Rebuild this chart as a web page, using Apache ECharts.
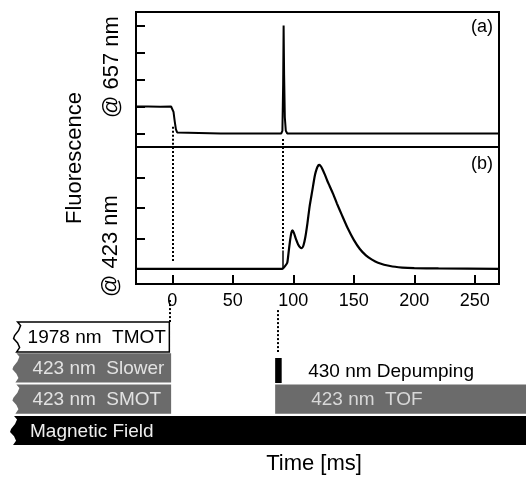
<!DOCTYPE html>
<html>
<head>
<meta charset="utf-8">
<script src="https://cdn.jsdelivr.net/npm/echarts@6/dist/echarts.min.js"></script>
<style>
  html, body { margin: 0; padding: 0; background: #fff; }
  #chart { width: 526px; height: 477px; }
</style>
</head>
<body>
<div id="chart"></div>
<script>
// fluorescence @ 657 nm, panel (a): [time ms, signal]
const fluor657 = [
  [-30, 1.0], [-20, 1.0], [-10, 0.99], [-1, 1.0], [0, 0.98], [1, 0.8], [2, 0.45], [3, 0.15],
  [4, 0.04], [5, 0.0], [40, 0.0], [90, 0.0], [91, 0.1], [91.6, 1.8], [92, 4.0], [92.4, 2.2],
  [93, 0.6], [93.8, 0.1], [95, 0.0], [150, 0.0], [270, 0.0]
]
// fluorescence @ 423 nm, panel (b)
const fluor423 = [
  [-30, 0.0], [91, 0.0], [93, 0.08], [95, 0.2], [96, 0.5], [97.4, 0.95], [98.5, 1.2], [99.3, 1.26],
  [100.5, 1.18], [102, 1.0], [104, 0.8], [106, 0.69], [107, 0.68], [108.5, 0.78], [110, 1.05],
  [111.7, 1.5], [113.5, 2.05], [115.8, 2.59], [117.5, 3.0], [118.6, 3.19], [120, 3.35], [121.3, 3.41],
  [122.5, 3.38], [124, 3.28], [126, 3.1], [128, 2.9], [130, 2.72], [133, 2.45], [136, 2.15],
  [140, 1.78], [145, 1.33], [150, 0.95], [155, 0.65], [160, 0.44], [165, 0.3], [170, 0.2],
  [180, 0.09], [190, 0.04], [200, 0.02], [220, 0.01], [270, 0.0]
]
const timeTicks = [0, 50, 100, 150, 200, 250]
const ticksA = [0, 1, 2, 3, 4]
const ticksB = [0, 1, 2, 3]
const eventTimes = [0, 91]

// timing sequence below the plot
const pulseNames = ['1978 nm  TMOT', '423 nm  Slower', '423 nm  SMOT', 'Magnetic Field', '430 nm Depumping', '423 nm  TOF']
const pulseStart = [-131, -132, -132, -134, 89, 89]
const pulseEnd = [0, 1.5, 1.5, 300, 94.5, 300]
const pulseRow = [0, 1, 2, 3, 1, 2]

const FONT = '"Liberation Sans", Arial, sans-serif'
const X0 = 136, XW = 363
const pxPerMs = XW / 300

const pulseKind = ['open', 'gray', 'gray', 'black', 'black', 'gray']
const pulseTorn = [true, true, true, true, false, false]
const pulseTextColor = ['#000', '#e2e2e2', '#e2e2e2', '#eee', '#000', '#d8d8d8']
const pulseTextOffset = [14, 20, 20, 20, 33, 36]
const jag = [[4, 0], [7, 0.12], [5, 0.28], [1, 0.45], [0, 0.55], [4, 0.7], [6, 0.85], [3, 1]]

function renderPulse (params, api) {
  const i = api.value(3)
  const row = api.value(2)
  const dep = i === 4
  const y0v = row + (dep ? 0.15 : 0)
  const y1v = row + (dep ? 0.95 : (i === 0 ? 0.96 : 0.93))
  const p0 = api.coord([api.value(0), y0v])
  const p1 = api.coord([api.value(1), y1v])
  const h = p1[1] - p0[1]
  let pts
  if (pulseTorn[i]) {
    pts = jag.map(j => [p0[0] + j[0], p0[1] + j[1] * h])
  } else {
    pts = [[p0[0], p0[1]], [p0[0], p1[1]]]
  }
  pts.push([p1[0], p1[1]], [p1[0], p0[1]])
  const kind = pulseKind[i]
  const fill = kind === 'open' ? '#fff' : kind === 'gray' ? '#6b6b6b' : '#000'
  return {
    type: 'group',
    children: [
      {
        type: 'polygon',
        shape: { points: pts },
        style: { fill: fill, stroke: kind === 'open' ? '#000' : null, lineWidth: 1.5 }
      },
      {
        type: 'text',
        style: {
          text: pulseNames[i],
          x: p0[0] + pulseTextOffset[i],
          y: (p0[1] + p1[1]) / 2 + 1,
          fill: pulseTextColor[i],
          fontSize: 19,
          fontFamily: FONT,
          align: 'left',
          verticalAlign: 'middle'
        }
      }
    ]
  }
}

const dotted = { type: [2, 2], width: 2, color: '#000' }
function vline (x, ya, yb, style) {
  return [{ coord: [x, ya], lineStyle: style || dotted }, { coord: [x, yb] }]
}
function markLines (items) {
  return {
    silent: true, symbol: 'none', animation: false,
    label: { show: false },
    lineStyle: dotted,
    data: items
  }
}

const frameAxisX = (idx, showTicks) => ({
  type: 'value', gridIndex: idx, min: -30, max: 270,
  axisLine: { show: false, onZero: false },
  splitLine: { show: false },
  axisTick: { show: showTicks, inside: true, length: 9, customValues: timeTicks, lineStyle: { color: '#000', width: 2 } },
  axisLabel: { show: showTicks, customValues: timeTicks, margin: 8, color: '#000', fontSize: 18, fontFamily: FONT }
})
const frameAxisY = (idx, min, max, ticks) => ({
  type: 'value', gridIndex: idx, min: min, max: max,
  axisLine: { show: false, onZero: false },
  splitLine: { show: false },
  axisTick: { show: true, inside: true, length: 9, customValues: ticks, lineStyle: { color: '#000', width: 2 } },
  axisLabel: { show: false }
})

const chart = echarts.init(document.getElementById('chart'))
chart.setOption({
  animation: false,
  backgroundColor: '#fff',
  grid: [
    { left: X0, top: 12, width: XW, height: 135, show: true, borderColor: '#000', borderWidth: 2 },
    { left: X0, top: 147, width: XW, height: 137, show: true, borderColor: '#000', borderWidth: 2 },
    { left: X0 + (-140 + 30) * pxPerMs, width: 440 * pxPerMs, top: 322 - 31.3, height: 5 * 31.3 }
  ],
  xAxis: [
    frameAxisX(0, false),
    frameAxisX(1, true),
    { type: 'value', gridIndex: 2, min: -140, max: 300, show: false }
  ],
  yAxis: [
    frameAxisY(0, -0.5, 4.5, ticksA),
    frameAxisY(1, -0.5, 4.0, ticksB),
    { type: 'value', gridIndex: 2, min: -1, max: 4, inverse: true, show: false }
  ],
  graphic: [
    { type: 'text', x: 75, y: 158, rotation: Math.PI / 2, style: { text: 'Fluorescence', fontSize: 22, fontFamily: FONT, fill: '#000', align: 'center', verticalAlign: 'middle' } },
    { type: 'text', x: 112, y: 67, rotation: Math.PI / 2, style: { text: '@ 657 nm', fontSize: 22, fontFamily: FONT, fill: '#000', align: 'center', verticalAlign: 'middle' } },
    { type: 'text', x: 111, y: 246, rotation: Math.PI / 2, style: { text: '@ 423 nm', fontSize: 22, fontFamily: FONT, fill: '#000', align: 'center', verticalAlign: 'middle' } },
    { type: 'text', x: 493, y: 27, style: { text: '(a)', fontSize: 18, fontFamily: FONT, fill: '#000', align: 'right', verticalAlign: 'middle' } },
    { type: 'text', x: 493, y: 164, style: { text: '(b)', fontSize: 18, fontFamily: FONT, fill: '#000', align: 'right', verticalAlign: 'middle' } },
    { type: 'text', x: 314, y: 464, style: { text: 'Time [ms]', fontSize: 22, fontFamily: FONT, fill: '#000', align: 'center', verticalAlign: 'middle' } }
  ],
  series: [
    {
      type: 'line', xAxisIndex: 0, yAxisIndex: 0, data: fluor657,
      showSymbol: false, lineStyle: { color: '#000', width: 2 },
      markLine: markLines([vline(eventTimes[0], 0.25, -0.5), vline(eventTimes[1], -0.2, -0.5)])
    },
    {
      type: 'line', xAxisIndex: 1, yAxisIndex: 1, data: fluor423,
      showSymbol: false, smooth: 0.2, lineStyle: { color: '#000', width: 2.2 },
      markLine: markLines([
        vline(eventTimes[0], 4.0, 0.2),
        vline(eventTimes[1], 4.0, 0.6),
        vline(eventTimes[1], 0.6, 0.0, { type: 'solid', width: 1.5, color: '#000' })
      ])
    },
    {
      type: 'custom', xAxisIndex: 2, yAxisIndex: 2, clip: false,
      renderItem: renderPulse,
      data: pulseNames.map((n, i) => [pulseStart[i], pulseEnd[i], pulseRow[i], i]),
      markLine: markLines([vline(eventTimes[0], -0.7, 0), vline(eventTimes[1], -0.38, 0.96)])
    }
  ]
})
</script>
</body>
</html>
